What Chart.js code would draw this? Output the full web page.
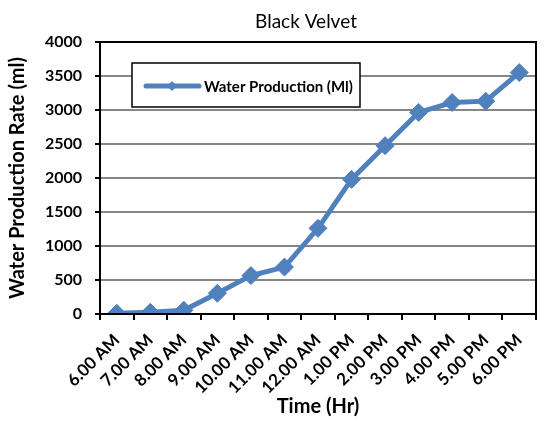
<!DOCTYPE html>
<html>
<head>
<meta charset="utf-8">
<script src="https://cdn.jsdelivr.net/npm/chart.js@4/dist/chart.umd.min.js"></script>
<style>
  html, body { margin: 0; padding: 0; background: #fff; }
  #wrap { width: 546px; height: 421px; position: relative; }
</style>
</head>
<body>
<div id="wrap"><canvas id="waterChart"></canvas></div>
<script>
// ---- data ----
const chartTitle = 'Black Velvet';
const timeLabels = ['6.00 AM', '7.00 AM', '8.00 AM', '9.00 AM', '10.00 AM', '11.00 AM',
  '12.00 AM', '1.00 PM', '2.00 PM', '3.00 PM', '4.00 PM', '5.00 PM', '6.00 PM'];
const waterProduction = [10, 25, 55, 305, 565, 690, 1260, 1980, 2475, 2965, 3110, 3130, 3550];
const yTicks = [0, 500, 1000, 1500, 2000, 2500, 3000, 3500, 4000];

const FONT = 'Lato, "Open Sans", sans-serif';
const BLUE = '#4f81bd';

// title sits over the plot, not the whole canvas
const titleText = {
  id: 'titleText',
  afterDraw(chart) {
    const { ctx } = chart;
    ctx.save();
    ctx.fillStyle = '#000';
    ctx.font = '19px ' + FONT;
    ctx.textAlign = 'center';
    ctx.textBaseline = 'middle';
    ctx.fillText(chartTitle, 306, 22);
    ctx.restore();
  }
};

// box round the plot area (top and right sides too)
const frame = {
  id: 'frame',
  afterDraw(chart) {
    const { ctx, chartArea: a } = chart;
    ctx.save();
    ctx.strokeStyle = '#000';
    ctx.lineWidth = 2;
    ctx.strokeRect(a.left, a.top, a.right - a.left, a.bottom - a.top);
    ctx.restore();
  }
};

// legend drawn inside the plot, like the original
const innerLegend = {
  id: 'innerLegend',
  afterDraw(chart) {
    const { ctx } = chart;
    const ds = chart.data.datasets[0];
    const x = 132, y = 63, w = 228, h = 44;
    ctx.save();
    ctx.fillStyle = '#fff';
    ctx.fillRect(x, y, w, h);
    ctx.strokeStyle = '#000';
    ctx.lineWidth = 1.5;
    ctx.strokeRect(x, y, w, h);
    const cy = y + 23;
    ctx.strokeStyle = ds.borderColor;
    ctx.lineWidth = 5;
    ctx.lineCap = 'round';
    ctx.beginPath();
    ctx.moveTo(x + 14, cy);
    ctx.lineTo(x + 67, cy);
    ctx.stroke();
    ctx.fillStyle = ds.borderColor;
    ctx.beginPath();
    const mx = x + 40, r = 5;
    ctx.moveTo(mx - r, cy); ctx.lineTo(mx, cy - r); ctx.lineTo(mx + r, cy); ctx.lineTo(mx, cy + r);
    ctx.closePath();
    ctx.fill();
    ctx.fillStyle = '#000';
    ctx.font = 'bold 15px ' + FONT;
    ctx.textBaseline = 'middle';
    ctx.fillText(ds.label, x + 72, cy + 1);
    ctx.restore();
  }
};

new Chart(document.getElementById('waterChart'), {
  type: 'line',
  data: {
    labels: timeLabels,
    datasets: [{
      label: 'Water Production (Ml)',
      data: waterProduction,
      borderColor: BLUE,
      backgroundColor: BLUE,
      borderWidth: 5,
      pointStyle: 'rectRot',
      pointRadius: 9,
      pointBorderWidth: 1,
      tension: 0
    }]
  },
  options: {
    responsive: true,
    maintainAspectRatio: false,
    animation: false,
    layout: { padding: { left: 0, right: 3, top: 42, bottom: 0 } },
    plugins: {
      legend: { display: false },
      tooltip: { enabled: false },
      title: { display: false }
    },
    scales: {
      x: {
        offset: true,
        afterFit(s) { s.height = 107; },
        grid: { display: true, offset: true, drawOnChartArea: false, tickColor: '#000', tickLength: 6, lineWidth: 2 },
        border: { color: '#000', width: 2 },
        ticks: {
          color: '#000',
          maxRotation: 45,
          minRotation: 45,
          autoSkip: false,
          padding: 10,
          font: { family: FONT, size: 17, weight: 'bold' }
        },
        title: {
          display: true,
          text: 'Time (Hr)',
          color: '#000',
          font: { family: FONT, size: 20, weight: 'bold' },
          padding: { top: 0, bottom: 2 }
        }
      },
      y: {
        min: 0,
        max: 4000,
        afterFit(s) { s.width = 100; },
        afterBuildTicks(s) { s.ticks = yTicks.map(v => ({ value: v })); },
        grid: { color: '#868686', lineWidth: 2, tickColor: '#000', tickLength: 5 },
        border: { color: '#000', width: 2 },
        ticks: {
          color: '#000',
          padding: 13,
          callback: v => String(v),
          font: { family: FONT, size: 16, weight: 'bold' }
        },
        title: {
          display: true,
          text: 'Water Production Rate (ml)',
          color: '#000',
          font: { family: FONT, size: 20, weight: 'bold' },
          padding: { top: 6, bottom: 4 }
        }
      }
    }
  },
  plugins: [titleText, frame, innerLegend]
});
</script>
</body>
</html>
